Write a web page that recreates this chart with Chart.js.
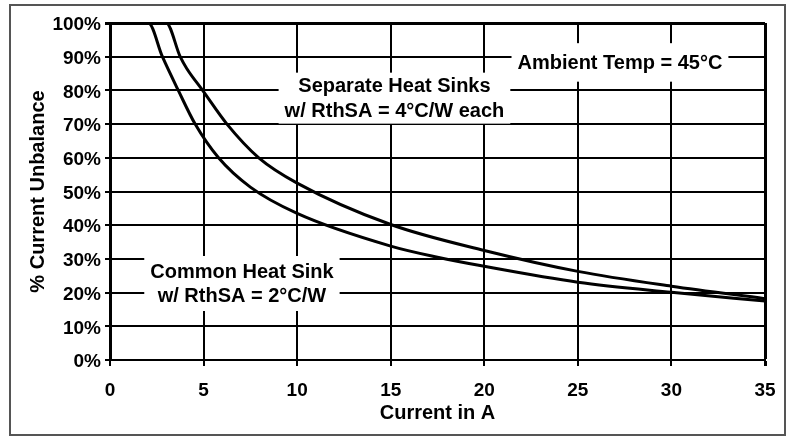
<!DOCTYPE html>
<html>
<head>
<meta charset="utf-8">
<script src="https://cdn.jsdelivr.net/npm/chart.js@4.4.1/dist/chart.umd.min.js"></script>
<style>
  html, body { margin: 0; padding: 0; background: #fff; }
  #wrap { width: 789px; height: 437px; position: relative; }
</style>
</head>
<body>
<div id="wrap"><canvas id="chart"></canvas></div>
<script>
// tick values / labels
const xTicks = [0, 5, 10, 15, 20, 25, 30, 35];
const yTicks = [0, 10, 20, 30, 40, 50, 60, 70, 80, 90, 100];
const yTickLabels = ['0%', '10%', '20%', '30%', '40%', '50%', '60%', '70%', '80%', '90%', '100%'];

// Common Heat Sink w/ RthSA = 2°C/W
const commonX = [0, 2.05, 2.8, 3.65, 4.55, 5.8, 7.5, 10, 15, 17.5, 20, 25, 30, 35];
const commonY = [100, 100, 90, 80, 70, 60, 51.3, 43.5, 33.8, 30.5, 27.8, 23.1, 20.1, 17.5];

// Separate Heat Sinks w/ RthSA = 4°C/W each
const separateX = [0, 3.0, 3.75, 4.1, 4.95, 6.25, 7.95, 10, 15, 20, 25, 30, 35];
const separateY = [100, 100, 90, 86.5, 80, 70, 60, 52.5, 40.2, 32.5, 26.3, 21.9, 18.2];

// text notes on the plot (centre in data units)
const notes = [
  { lines: ['Separate Heat Sinks', 'w/ RthSA = 4°C/W each'], x: 15.2, y: 77.7, padY: 1 },
  { lines: ['Common Heat Sink', 'w/ RthSA = 2°C/W'], x: 7.05, y: 22.7, padY: 3 },
  { lines: ['Ambient Temp = 45°C'], x: 27.25, y: 88.3, padY: 7 }
];

const FONT = "'Liberation Sans', Arial, sans-serif";

const toPoints = (xs, ys) => xs.map((v, i) => ({ x: v, y: ys[i] }));

// white boxes + text, and the outer frame
const notesPlugin = {
  id: 'notes',
  beforeDatasetsDraw(chart) {
    const { ctx, scales: { x, y } } = chart;
    const lineH = 24.5;
    ctx.save();
    ctx.font = 'bold 20px ' + FONT;
    ctx.textAlign = 'center';
    ctx.textBaseline = 'middle';
    notes.forEach(n => {
      const cx = x.getPixelForValue(n.x);
      const cy = y.getPixelForValue(n.y);
      const w = Math.max(...n.lines.map(t => ctx.measureText(t).width)) + 12;
      const h = n.lines.length * lineH + n.padY * 2;
      ctx.fillStyle = '#fff';
      ctx.fillRect(cx - w / 2, cy - h / 2, w, h);
      ctx.fillStyle = '#000';
      n.lines.forEach((t, i) => {
        ctx.fillText(t, cx, cy + (i - (n.lines.length - 1) / 2) * lineH + 1);
      });
    });
    ctx.restore();
  },
  afterDraw(chart) {
    const ctx = chart.ctx;
    ctx.save();
    ctx.strokeStyle = '#555';
    ctx.lineWidth = 2;
    ctx.strokeRect(10, 5, 775, 430);
    ctx.restore();
  }
};

const ctx = document.getElementById('chart').getContext('2d');

const myChart = new Chart(ctx, {
  type: 'scatter',
  data: {
    datasets: [
      {
        label: 'Common Heat Sink',
        data: toPoints(commonX, commonY),
        showLine: true,
        borderColor: '#000',
        borderWidth: 3,
        pointRadius: 0,
        cubicInterpolationMode: 'monotone'
      },
      {
        label: 'Separate Heat Sinks',
        data: toPoints(separateX, separateY),
        showLine: true,
        borderColor: '#000',
        borderWidth: 3,
        pointRadius: 0,
        cubicInterpolationMode: 'monotone'
      }
    ]
  },
  options: {
    responsive: true,
    maintainAspectRatio: false,
    animation: false,
    events: [],
    layout: { padding: { left: 22, right: 24, top: 23, bottom: 8 } },
    plugins: {
      legend: { display: false },
      tooltip: { enabled: false }
    },
    scales: {
      x: {
        type: 'linear',
        min: 0,
        max: 35,
        afterBuildTicks: axis => { axis.ticks = xTicks.map(v => ({ value: v })); },
        afterFit: s => { s.height = 69; },
        grid: {
          color: '#000',
          lineWidth: c => (c.tick && c.tick.value === 35 ? 3 : 2),
          tickLength: 6
        },
        border: { color: '#000', width: 2 },
        ticks: {
          color: '#000',
          font: { family: FONT, size: 19, weight: 'bold' },
          padding: 13,
          maxRotation: 0
        },
        title: {
          display: true,
          text: 'Current in A',
          color: '#000',
          font: { family: FONT, size: 20, weight: 'bold' },
          padding: { top: 0, bottom: 4 }
        }
      },
      y: {
        min: 0,
        max: 100,
        afterBuildTicks: axis => { axis.ticks = yTicks.map(v => ({ value: v })); },
        afterFit: s => { s.width = 88; },
        grid: {
          color: '#000',
          lineWidth: c => (c.tick && c.tick.value === 100 ? 3 : 2),
          tickLength: 5
        },
        border: { color: '#000', width: 3 },
        ticks: {
          color: '#000',
          font: { family: FONT, size: 19, weight: 'bold' },
          padding: 4,
          labelOffset: 2,
          callback: v => yTickLabels[yTicks.indexOf(v)]
        },
        title: {
          display: true,
          text: '% Current Unbalance',
          color: '#000',
          font: { family: FONT, size: 20, weight: 'bold' },
          padding: { top: 4, bottom: 0 }
        }
      }
    }
  },
  plugins: [notesPlugin]
});
</script>
</body>
</html>
